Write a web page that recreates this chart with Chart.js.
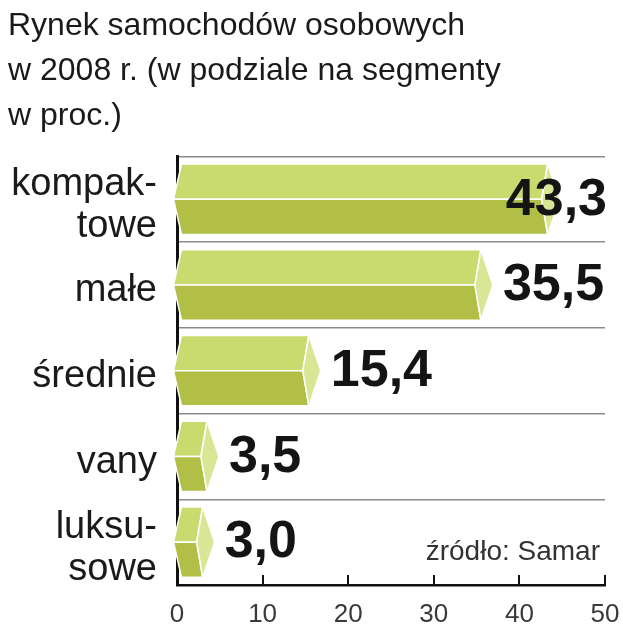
<!DOCTYPE html>
<html><head><meta charset="utf-8">
<script src="https://cdn.jsdelivr.net/npm/chart.js@4"></script>
<style>html,body{margin:0;padding:0;background:#fff}</style>
</head><body>
<canvas id="c" width="623" height="640" style="width:623px;height:640px"></canvas>
<script>
const categories = [['kompak-','towe'],['małe'],['średnie'],['vany'],['luksu-','sowe']];
const values = [43.3, 35.5, 15.4, 3.5, 3.0];
const valueLabels = ['43,3','35,5','15,4','3,5','3,0'];
const xTicks = [0,10,20,30,40,50];
const titleLines = ['Rynek samochodów osobowych','w 2008 r. (w podziale na segmenty','w proc.)'];
const sourceText = 'źródło: Samar';

const FONT = '"Liberation Sans", Arial, sans-serif';
const topColor = '#c9da6e';
const botColor = '#b1bf47';
const sideColor = '#d9e696';

function poly(ctx, pts, fill) {
  ctx.beginPath();
  ctx.moveTo(pts[0][0], pts[0][1]);
  for (let k = 1; k < pts.length; k++) ctx.lineTo(pts[k][0], pts[k][1]);
  ctx.closePath();
  ctx.fillStyle = fill;
  ctx.fill();
  ctx.stroke();
}

const prismPlugin = {
  id: 'prism',
  afterDatasetsDraw(chart) {
    const ctx = chart.ctx;
    const area = chart.chartArea;
    const meta = chart.getDatasetMeta(0);
    ctx.save();
    ctx.strokeStyle = '#ffffff';
    ctx.lineWidth = 1.5;
    ctx.lineJoin = 'round';
    meta.data.forEach((bar, i) => {
      const p = bar.getProps(['x','y','base','height'], true);
      const top = p.y - p.height / 2, bot = p.y + p.height / 2, mid = p.y;
      const x0 = p.base, x1 = p.x;
      const inL = 4, tipL = 4, inR = 6, tipR = 12;
      poly(ctx, [[x0 + inL, top], [x1, top], [x1 - inR, mid], [x0 - tipL, mid]], topColor);
      poly(ctx, [[x0 - tipL, mid], [x1 - inR, mid], [x1, bot], [x0 + inL, bot]], botColor);
      poly(ctx, [[x1, top], [x1 + tipR, mid], [x1, bot], [x1 - inR, mid]], sideColor);
    });
    ctx.font = 'bold 52px ' + FONT;
    ctx.fillStyle = '#141414';
    ctx.textBaseline = 'middle';
    ctx.textAlign = 'left';
    meta.data.forEach((bar, i) => {
      const p = bar.getProps(['x','y'], true);
      const txt = valueLabels[i];
      const w = ctx.measureText(txt).width;
      let tx = p.x + 12 + 10;
      if (tx + w > area.right + 2) tx = area.right + 2 - w;
      ctx.fillText(txt, tx, p.y + 1);
    });
    ctx.restore();
  },
  afterDraw(chart) {
    const ctx = chart.ctx;
    const area = chart.chartArea;
    const xs = chart.scales.x;
    ctx.save();
    ctx.strokeStyle = '#111';
    ctx.lineWidth = 2;
    xTicks.forEach(v => {
      if (v === 0) return;
      const px = Math.round(xs.getPixelForValue(v));
      ctx.beginPath();
      ctx.moveTo(px, area.bottom);
      ctx.lineTo(px, area.bottom - 10);
      ctx.stroke();
    });
    ctx.font = '28px ' + FONT;
    ctx.fillStyle = '#333';
    ctx.textAlign = 'right';
    ctx.textBaseline = 'alphabetic';
    ctx.fillText(sourceText, 600, 560);
    ctx.restore();
  }
};

new Chart(document.getElementById('c'), {
  type: 'bar',
  data: {
    labels: categories,
    datasets: [{
      data: values,
      backgroundColor: 'rgba(0,0,0,0)',
      borderWidth: 0,
      barPercentage: 0.82,
      categoryPercentage: 1
    }]
  },
  options: {
    indexAxis: 'y',
    responsive: false,
    animation: false,
    layout: { padding: { top: 4, left: 8, right: 18, bottom: 0 } },
    plugins: {
      legend: { display: false },
      tooltip: { enabled: false },
      title: {
        display: true,
        text: titleLines,
        align: 'start',
        color: '#1a1a1a',
        font: { family: FONT, size: 32, weight: 'normal', lineHeight: 1.4 },
        padding: { top: 0, bottom: 18 }
      }
    },
    scales: {
      x: {
        type: 'linear',
        min: 0, max: 50,
        afterBuildTicks(scale) { scale.ticks = xTicks.map(v => ({ value: v })); },
        ticks: { color: '#3a3a3a', font: { family: FONT, size: 26 }, padding: 14, autoSkip: false, maxRotation: 0 },
        grid: { drawOnChartArea: false, drawTicks: false },
        border: { color: '#111', width: 2.5 },
        afterFit(scale) { scale.height = 55; scale.paddingLeft = 0; scale.paddingRight = 0; }
      },
      y: {
        offset: true,
        grid: { color: '#8c8c8c', lineWidth: 1.5, drawTicks: false, offset: true },
        border: { color: '#111', width: 3 },
        ticks: { color: '#1a1a1a', font: { family: FONT, size: 38, lineHeight: 1.1 }, padding: 20, labelOffset: 6, autoSkip: false },
        afterFit(scale) { scale.width = 169; scale.paddingTop = 0; scale.paddingBottom = 0; }
      }
    }
  },
  plugins: [prismPlugin]
});
</script>
</body></html>
